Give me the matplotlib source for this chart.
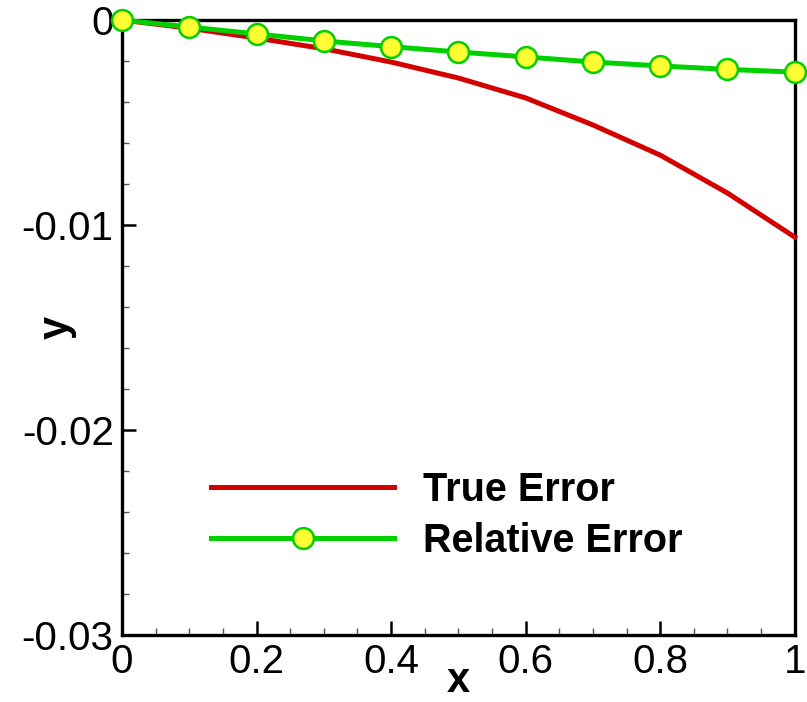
"""True error vs relative error — Tecplot-style line plot."""
import matplotlib
matplotlib.use("Agg")
import matplotlib.pyplot as plt
from matplotlib.ticker import MultipleLocator

plt.rcParams["font.family"] = ["Liberation Sans", "DejaVu Sans"]

x = [0.0, 0.1, 0.2, 0.3, 0.4, 0.5, 0.6, 0.7, 0.8, 0.9, 1.0]
true_err = [0.0, -0.0004, -0.00088, -0.0014, -0.00205, -0.00283,
            -0.0038, -0.00512, -0.00659, -0.00844, -0.01059]
rel_err = [0.0, -0.00034, -0.00068, -0.00102, -0.0013, -0.00156,
           -0.0018, -0.00205, -0.00224, -0.00241, -0.00254]

RED = "#D40000"
GREEN = "#00D000"
YELLOW = "#FFFF33"

fig = plt.figure(figsize=(8.07, 7.02), dpi=100)
ax = fig.add_axes([0.1512, 0.0954, 0.8336, 0.8761])

ax.plot(x, true_err, color=RED, lw=3.6, label="True Error", clip_on=False, zorder=3)
ax.plot(x, rel_err, color=GREEN, lw=3.6, marker="o", ms=15,
        mfc=YELLOW, mec=GREEN, mew=1.8, label="Relative Error",
        clip_on=False, zorder=4)

ax.set_xlim(0, 1)
ax.set_ylim(-0.03, 0)
ax.xaxis.set_minor_locator(MultipleLocator(0.05))
ax.yaxis.set_minor_locator(MultipleLocator(0.002))
ax.set_xticks([0, 0.2, 0.4, 0.6, 0.8, 1.0])
ax.set_xticklabels(["0", "0.2", "0.4", "0.6", "0.8", "1"])
ax.set_yticks([-0.03, -0.02, -0.01, 0])
ax.set_yticklabels(["-0.03", "-0.02", "-0.01", "0"])

for s in ax.spines.values():
    s.set_linewidth(2.4)
ax.tick_params(which="both", direction="in", top=False, right=False,
               labelsize=29, colors="black")
ax.tick_params(which="major", length=10, width=1.8, pad=6)
ax.tick_params(which="minor", length=5, width=1.0, color="#555555")

ax.set_xlabel("x", fontsize=30, fontweight="bold", va="baseline")
ax.set_ylabel("y", fontsize=30, fontweight="bold")
ax.xaxis.set_label_coords(0.5, -0.0927)
ax.yaxis.set_label_coords(-0.067, 0.5)

leg = ax.legend(loc="upper left", bbox_to_anchor=(0.08, 0.325),
                frameon=False, numpoints=1,
                handlelength=4.6, handletextpad=0.75, labelspacing=0.33,
                prop={"weight": "bold", "size": 28.5})

fig.savefig("out.png", dpi=100, facecolor="white")
